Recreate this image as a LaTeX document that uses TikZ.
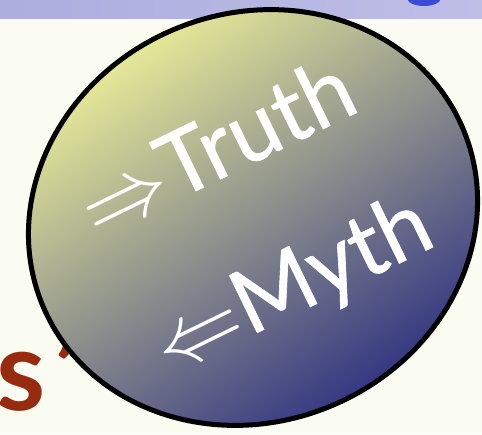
\documentclass[tikz,border=0pt]{standalone}
\usepackage{fontspec}
\setmainfont{Lato}
\newfontfamily\claimfont{Lato}[FakeBold=0.7]
\usepackage{tikz}
\usetikzlibrary{shapes.geometric, positioning}

\definecolor{ivory}{HTML}{FAFBF1}
\definecolor{bandleft}{HTML}{ADADDE}
\definecolor{bandright}{HTML}{BEBEE7}
\definecolor{blobblue}{HTML}{3C4AD6}
\definecolor{titlered}{HTML}{972B10}
\definecolor{lightyellow}{HTML}{F6F99A}
\definecolor{midgray}{HTML}{9C9D88}
\definecolor{deepnavy}{HTML}{24277F}

\begin{document}
\begin{tikzpicture}[
    x=1pt, y=1pt,
    bubble/.style={ellipse, draw=black, line width=5pt, minimum width=456pt, minimum height=408pt, inner sep=0pt, rotate=23, top color=lightyellow, middle color=midgray, bottom color=deepnavy, shading angle=35},
    claim/.style={text=white, font=\claimfont\fontsize{20.74}{24}\selectfont, anchor=base, rotate=26, scale=4.3, transform shape, inner sep=0pt},
    title/.style={text=titlered, font=\fontsize{112}{130}\selectfont\bfseries, anchor=base west, inner sep=0pt}
]
\useasboundingbox (0,0) rectangle (482,434);
\clip (0,0) rectangle (482,434);

% Background
\fill[ivory] (0,0) rectangle (482,434);
\shade[left color=bandleft, right color=bandright] (0,415.3) rectangle (482,434);
\node[ellipse, fill=blobblue, minimum width=34pt, minimum height=16pt, inner sep=0pt] (blob) at (424,436) {};

% Title
\node[title] (word) at (-4,24) {s\kern9pt’};

% Bubble
\node[bubble] (lens) at (253,216.5) {};
\node[claim] (truth) at (229,259) {$\Rightarrow$Truth};
\node[claim] (myth) at (304,124) {$\Leftarrow$Myth};
\end{tikzpicture}
\end{document}
